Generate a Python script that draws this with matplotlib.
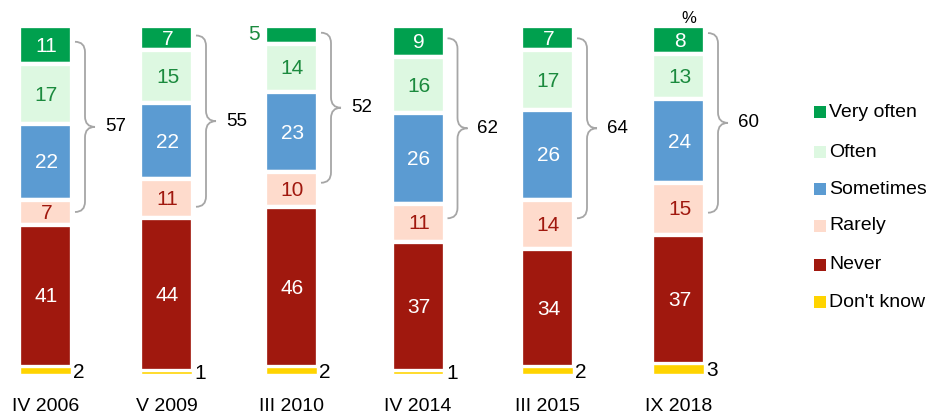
import matplotlib
matplotlib.use("Agg")
import matplotlib.pyplot as plt
from matplotlib.path import Path
from matplotlib.patches import PathPatch, Rectangle

plt.rcParams['font.family'] = ['Liberation Sans', 'DejaVu Sans']

# Survey waves and answer shares (%)
waves = ['IV 2006', 'V 2009', 'III 2010', 'IV 2014', 'III 2015', 'IX 2018']
categories = ['Very often', 'Often', 'Sometimes', 'Rarely', 'Never', "Don't know"]
very_often = [11, 7, 5, 9, 7, 8]
often = [17, 15, 14, 16, 17, 13]
sometimes = [22, 22, 23, 26, 26, 24]
rarely = [7, 11, 10, 11, 14, 15]
never = [41, 44, 46, 37, 34, 37]
dont_know = [2, 1, 2, 1, 2, 3]
brace_totals = [57, 55, 52, 62, 64, 60]

series = [very_often, often, sometimes, rarely, never, dont_know]
colors = ['#00A04E', '#DDF8E1', '#5B9BD2', '#FEDBCC', '#A0180E', '#FFD400']
label_colors = ['white', '#1B8A3E', 'white', '#A0180E', 'white', 'black']

# layout (pixel-like x units, bars centred here)
xpos = [45.5, 166.5, 291.5, 418, 547.5, 678.5]
bar_w = 53
# brace extent, in % from the top of the bar (top end, bottom end)
brace_top = [4.5, 2.7, 1.9, 3.5, 3.5, 2.0]
brace_bot = [53.4, 51.9, 45.0, 55.2, 55.2, 53.6]

fig = plt.figure(figsize=(9.33, 4.16), dpi=100)
ax = fig.add_axes([0, 0, 1, 1])
ax.set_xlim(0, 933)
ax.set_ylim(-12.0, 107.5)
ax.axis('off')

# stack from the top: Very often at the top, Don't know at the bottom
for i, x in enumerate(xpos):
    top = 100
    for k, vals in enumerate(series):
        v = vals[i]
        bottom = top - v
        if k == 5:
            # thin yellow strip, drawn over the white seam so 1% still shows
            ax.bar(x, v, bottom=bottom, width=50.5, color=colors[k],
                   edgecolor='white', linewidth=1.0, zorder=3)
        else:
            ax.bar(x, v, bottom=bottom, width=bar_w, color=colors[k],
                   edgecolor='white', linewidth=3.1, zorder=2)
        yc = bottom + v / 2
        if k == 5:
            ax.text(x + 28, yc - 0.4, str(v), ha='left', va='center',
                    fontsize=15, color='black')
        elif k == 0 and v < 6:
            ax.text(x - 32, yc, str(v), ha='right', va='center',
                    fontsize=15, color='#1B8A3E')
        else:
            ax.text(x + 1, yc - 0.3, str(v), ha='center', va='center',
                    fontsize=15, color=label_colors[k])
        top = bottom

    # curly brace for the top four answers
    x0 = x + 29.5
    x1 = x0 + 10
    x2 = x0 + 20
    yt = 100 - brace_top[i]
    yb = 100 - brace_bot[i]
    ym = (yt + yb) / 2
    r = 3.0
    verts = [(x0, yt), (x1, yt), (x1, yt - r),
             (x1, ym + r),
             (x1, ym), (x2, ym),
             (x2, ym),
             (x1, ym), (x1, ym - r),
             (x1, yb + r),
             (x1, yb), (x0, yb)]
    codes = [Path.MOVETO, Path.CURVE3, Path.CURVE3,
             Path.LINETO,
             Path.CURVE3, Path.CURVE3,
             Path.MOVETO, Path.CURVE3, Path.CURVE3,
             Path.LINETO,
             Path.CURVE3, Path.CURVE3]
    ax.add_patch(PathPatch(Path(verts, codes), facecolor='none',
                           edgecolor='#A6A6A6', linewidth=1.3, zorder=3))
    ax.text(x2 + 10, ym, str(brace_totals[i]), ha='left', va='center',
            fontsize=13.5, color='black')

    # wave label under the bar
    ax.text(x, -9.2, waves[i], ha='center', va='center', fontsize=14,
            color='black')

ax.text(689, 102.1, '%', ha='center', va='center', fontsize=12)

# legend drawn by hand
leg_y = [75.3, 63.8, 53.2, 42.6, 31.4, 20.7]
for k, name in enumerate(categories):
    ax.add_patch(Rectangle((814, leg_y[k] - 1.7), 12, 3.4,
                           facecolor=colors[k], edgecolor='none'))
    ax.text(829, leg_y[k], name, ha='left', va='center', fontsize=14)

fig.savefig('out.png', dpi=100)
